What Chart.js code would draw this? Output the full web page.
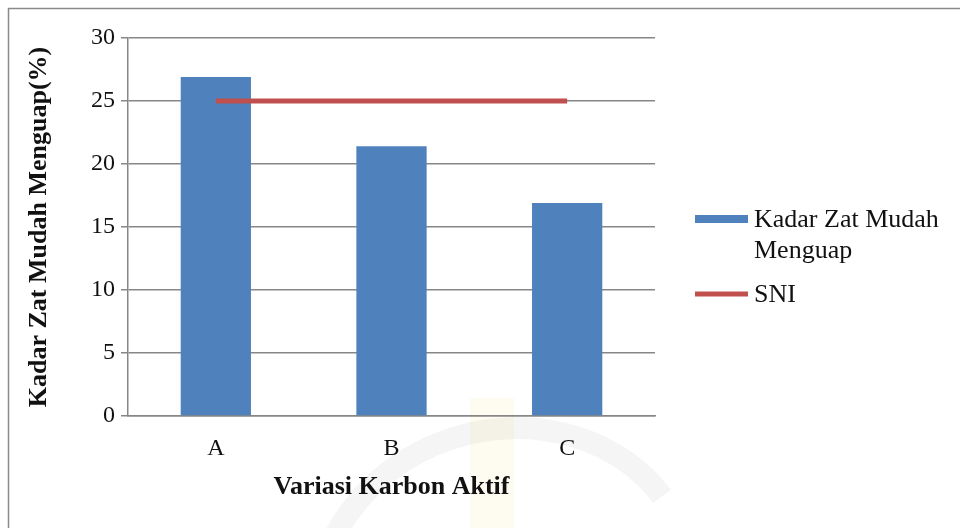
<!DOCTYPE html>
<html>
<head>
<meta charset="utf-8">
<title>Kadar Zat Mudah Menguap</title>
<script src="https://cdn.jsdelivr.net/npm/chart.js@4/dist/chart.umd.min.js"></script>
<style>
  html, body { margin: 0; padding: 0; background: #ffffff; }
  #wrap { width: 960px; height: 528px; position: relative; }
  canvas { display: block; }
</style>
</head>
<body>
<div id="wrap"><canvas id="chart" width="960" height="528"></canvas></div>
<script>
// Sample categories and measured values
const categories = ['A', 'B', 'C'];
const volatileMatter = [26.9, 21.4, 16.9];   // Kadar Zat Mudah Menguap (%)
const sniLimit = [25, 25, 25];               // SNI standard limit (%)
const yAxisMin = 0;
const yAxisMax = 30;
const yAxisStep = 5;

const SERIF = '"Liberation Serif", "Times New Roman", serif';
const BLUE = '#4F81BD';
const RED = '#C0504D';
const GRID = '#878787';

// Frame around the figure and a faint emblem behind the lower part
const framePlugin = {
  id: 'frame',
  beforeDraw(chart) {
    const ctx = chart.ctx;
    ctx.save();
    ctx.fillStyle = '#ffffff';
    ctx.fillRect(0, 0, chart.width, chart.height);

    ctx.fillStyle = 'rgba(250, 230, 150, 0.14)';
    ctx.fillRect(470, 398, 44, 130);
    ctx.strokeStyle = 'rgba(160, 160, 160, 0.10)';
    ctx.lineWidth = 22;
    ctx.beginPath();
    ctx.ellipse(505, 600, 190, 170, -0.3, Math.PI * 1.02, Math.PI * 1.9);
    ctx.stroke();
    ctx.restore();
  },
  afterDraw(chart) {
    const ctx = chart.ctx;
    ctx.save();
    ctx.strokeStyle = '#8a8a8a';
    ctx.lineWidth = 1.5;
    ctx.beginPath();
    ctx.moveTo(8.5, chart.height + 2);
    ctx.lineTo(8.5, 8.5);
    ctx.lineTo(chart.width + 2, 8.5);
    ctx.stroke();
    ctx.restore();
  }
};

// Legend at the right, built from the dataset labels and colours
const sideLegend = {
  id: 'sideLegend',
  afterDraw(chart) {
    const ctx = chart.ctx;
    const x0 = 695, swW = 53, textX = 754, maxW = 196, lineH = 31;
    let y = 219;
    ctx.save();
    ctx.font = '26px ' + SERIF;
    ctx.textBaseline = 'middle';
    chart.data.datasets.forEach(ds => {
      if (ds.type === 'line') {
        ctx.fillStyle = ds.borderColor;
        ctx.fillRect(x0, y - 2.5, swW, 5);
      } else {
        ctx.fillStyle = ds.backgroundColor;
        ctx.fillRect(x0, y - 4, swW, 8);
      }
      // wrap the label into lines
      const words = ds.label.split(' ');
      const lines = [];
      let cur = '';
      words.forEach(w => {
        const t = cur ? cur + ' ' + w : w;
        if (ctx.measureText(t).width > maxW && cur) { lines.push(cur); cur = w; }
        else cur = t;
      });
      if (cur) lines.push(cur);
      ctx.fillStyle = '#111';
      lines.forEach((ln, i) => ctx.fillText(ln, textX, y + i * lineH + 1));
      y += lines.length * lineH + 13;
    });
    ctx.restore();
  }
};

new Chart(document.getElementById('chart'), {
  data: {
    labels: categories,
    datasets: [
      {
        type: 'bar',
        label: 'Kadar Zat Mudah Menguap',
        data: volatileMatter,
        backgroundColor: BLUE,
        borderWidth: 0,
        categoryPercentage: 1.0,
        barPercentage: 0.4,
        order: 1
      },
      {
        type: 'line',
        label: 'SNI',
        data: sniLimit,
        borderColor: RED,
        backgroundColor: RED,
        borderWidth: 5,
        pointRadius: 0,
        pointHoverRadius: 0,
        tension: 0,
        order: 0
      }
    ]
  },
  options: {
    responsive: false,
    animation: false,
    layout: { padding: { left: 20, right: 305, top: 38, bottom: 20 } },
    plugins: {
      legend: { display: false },
      tooltip: { enabled: false }
    },
    scales: {
      x: {
        type: 'category',
        grid: { display: false, drawTicks: false },
        border: { display: true, color: GRID, width: 1.5 },
        ticks: {
          color: '#111',
          padding: 18,
          font: { family: SERIF, size: 24 }
        },
        title: {
          display: true,
          text: 'Variasi Karbon Aktif',
          color: '#111',
          font: { family: SERIF, size: 26, weight: 'bold', lineHeight: 1 },
          padding: { top: 0, bottom: 8 }
        },
        afterFit(scale) { scale.height = 92; }
      },
      y: {
        min: yAxisMin,
        max: yAxisMax,
        grid: { color: GRID, lineWidth: 1.5, drawTicks: true, tickLength: 7 },
        border: { display: true, color: GRID, width: 1.5 },
        ticks: {
          stepSize: yAxisStep,
          color: '#111',
          padding: 6,
          font: { family: SERIF, size: 24 }
        },
        title: {
          display: true,
          text: 'Kadar Zat Mudah Menguap(%)',
          color: '#111',
          font: { family: SERIF, size: 26, weight: 'bold', lineHeight: 1 },
          padding: { top: 6, bottom: 0 }
        },
        afterFit(scale) { scale.width = 108; }
      }
    }
  },
  plugins: [framePlugin, sideLegend]
});
</script>
</body>
</html>
